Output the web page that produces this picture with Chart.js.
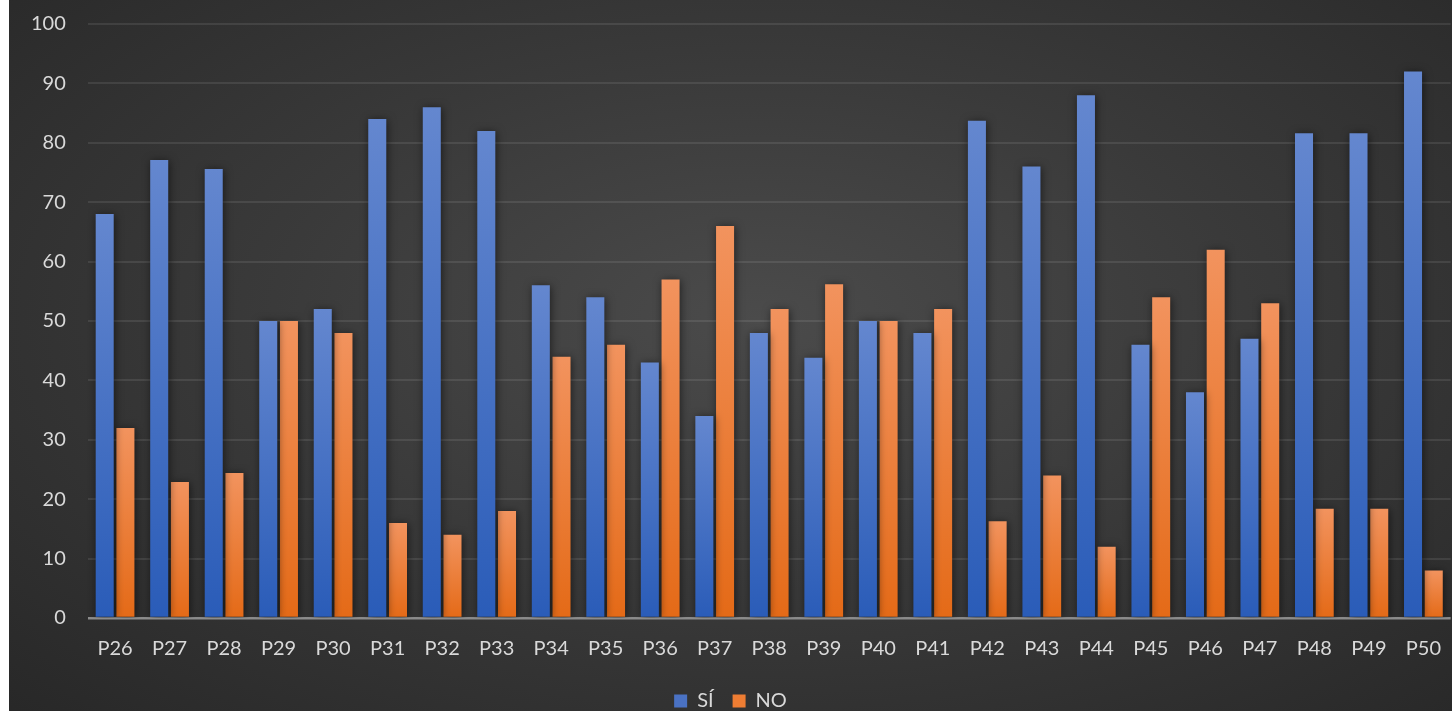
<!DOCTYPE html>
<html>
<head>
<meta charset="utf-8">
<script src="https://cdn.jsdelivr.net/npm/chart.js@4"></script>
<style>
  html, body { margin: 0; padding: 0; background: #fff; overflow: hidden; }
  #wrap {
    position: absolute; left: 9px; top: 0; width: 1443px; height: 711px; overflow: hidden;
    background: radial-gradient(ellipse 75% 80% at 52% 45%, #4b4b4b 0%, #3a3a3a 45%, #272727 100%);
  }
  #chart1 { position: absolute; left: 0; top: -10px; }
</style>
</head>
<body>
<div id="wrap"><canvas id="chart1"></canvas></div>
<script>
const labels = ['P26', 'P27', 'P28', 'P29', 'P30', 'P31', 'P32', 'P33', 'P34', 'P35', 'P36', 'P37', 'P38',
  'P39', 'P40', 'P41', 'P42', 'P43', 'P44', 'P45', 'P46', 'P47', 'P48', 'P49', 'P50'];
const siValues = [68, 77.1, 75.6, 50, 52, 84, 86, 82, 56, 54, 43, 34, 48, 43.8, 50, 48, 83.7, 76, 88, 46, 38, 47, 81.6, 81.6, 92];
const noValues = [32, 22.9, 24.4, 50, 48, 16, 14, 18, 44, 46, 57, 66, 52, 56.2, 50, 52, 16.3, 24, 12, 54, 62, 53, 18.4, 18.4, 8];
const yTicks = { min: 0, max: 100, step: 10 };

const ctx = document.getElementById("chart1");
ctx.width = 1443;
ctx.height = 722;

// vertical gradient per bar, lighter at the top of each bar
function barFill(top, bottom) {
  return function (context) {
    const chart = context.chart;
    const area = chart.chartArea;
    if (!area || context.type !== 'data') return bottom;
    const y = chart.scales.y;
    const yTop = y.getPixelForValue(context.raw);
    const yBase = y.getPixelForValue(0);
    const g = chart.ctx.createLinearGradient(0, yTop, 0, yBase);
    g.addColorStop(0, top);
    g.addColorStop(1, bottom);
    return g;
  };
}

const barShadow = {
  id: 'barShadow',
  beforeDatasetsDraw(chart) {
    const c = chart.ctx;
    c.save();
    c.shadowColor = 'rgba(0,0,0,0.55)';
    c.shadowBlur = 9;
    c.shadowOffsetX = 1;
    c.shadowOffsetY = 1;
  },
  afterDatasetsDraw(chart) {
    chart.ctx.restore();
  }
};

const data = {
  labels: labels,
  datasets: [
    {
      label: "SÍ",
      data: siValues,
      backgroundColor: barFill('#6487cf', '#2a5cb8'),
      categoryPercentage: 0.76,
      barPercentage: 0.87,
    },
    {
      label: "NO",
      data: noValues,
      backgroundColor: barFill('#f2935e', '#e46a17'),
      categoryPercentage: 0.76,
      barPercentage: 0.87,
    },
  ],
};

new Chart(ctx, {
  type: "bar",
  data: data,
  plugins: [barShadow],
  options: {
    responsive: false,
    animation: false,
    // legend is partly cut off at the bottom in the original
    layout: { padding: { left: 0, right: 0, top: 4, bottom: -9 } },
    scales: {
      x: {
        grid: { display: false },
        border: { display: false },
        ticks: { color: '#d9d9d9', font: { family: 'Lato', size: 20 }, padding: 11 },
      },
      y: {
        min: yTicks.min,
        max: yTicks.max,
        ticks: {
          stepSize: yTicks.step,
          color: '#d9d9d9',
          font: { family: 'Lato', size: 20 },
          padding: 22,
        },
        border: { display: false },
        grid: {
          drawTicks: false,
          lineWidth: (c) => c.tick && c.tick.value === 0 ? 2.5 : 2,
          color: (c) => c.tick && c.tick.value === 0 ? '#8c8c8c' : 'rgba(255,255,255,0.09)',
        },
      },
    },
    plugins: {
      tooltip: { enabled: false },
      legend: {
        position: 'bottom',
        labels: {
          color: '#d9d9d9',
          font: { family: 'Lato', size: 20 },
          boxWidth: 13,
          boxHeight: 13,
          padding: 19,
          generateLabels(chart) {
            const cols = ['#4a72c4', '#ee7d33'];
            return chart.data.datasets.map((ds, i) => ({
              text: ds.label, fillStyle: cols[i], strokeStyle: cols[i], lineWidth: 0,
              fontColor: '#d9d9d9', datasetIndex: i, hidden: false,
            }));
          },
        },
      },
    },
  },
});
</script>
</body>
</html>
